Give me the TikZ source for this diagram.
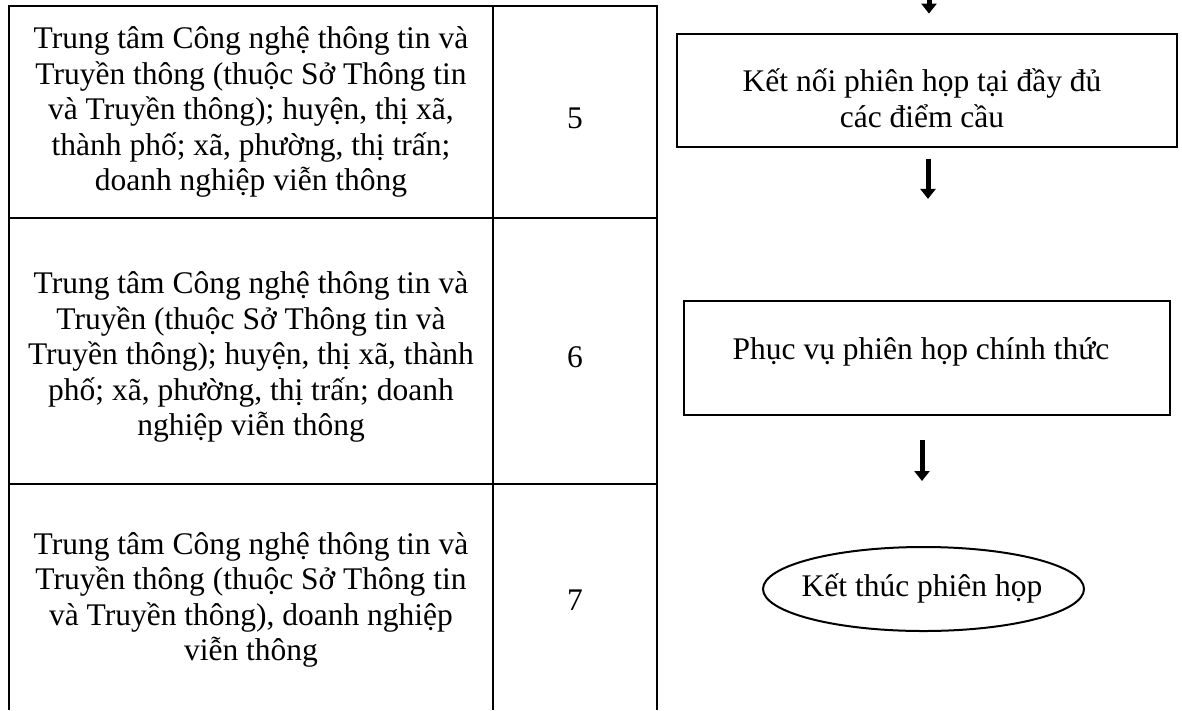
\documentclass[tikz,border=0pt]{standalone}
\usepackage{fontspec}
\setmainfont{Liberation Serif}
\usetikzlibrary{arrows.meta,shapes.geometric}
\begin{document}
\begin{tikzpicture}[x=1pt,y=-1pt,
  tbl/.style={line width=2.2pt},
  txt/.style={align=center,inner sep=0pt,font=\fontsize{31.5}{35.5}\selectfont},
  stepbox/.style={draw,line width=2.2pt,inner sep=0pt},
  endell/.style={draw,ellipse,line width=2pt,inner sep=0pt},
  arr/.style={line width=5pt,-{Triangle[width=15pt,length=10pt]}}]
\useasboundingbox (0,0) rectangle (1182,710);
% table
\draw[tbl] (9,710) -- (9,6) -- (657,6) -- (657,710);
\draw[tbl] (493,6) -- (493,710);
\draw[tbl] (9,218) -- (657,218);
\draw[tbl] (9,484) -- (657,484);
\node[txt] (r1) at (251,112) {Trung tâm Công nghệ thông tin và\\Truyền thông (thuộc Sở Thông tin\\và Truyền thông); huyện, thị xã,\\thành phố; xã, phường, thị trấn;\\doanh nghiệp viễn thông};
\node[txt] (n1) at (575,118) {5};
\node[txt] (r2) at (251,357) {Trung tâm Công nghệ thông tin và\\Truyền (thuộc Sở Thông tin và\\Truyền thông); huyện, thị xã, thành\\phố; xã, phường, thị trấn; doanh\\nghiệp viễn thông};
\node[txt] (n2) at (575,357) {6};
\node[txt] (r3) at (251,600) {Trung tâm Công nghệ thông tin và\\Truyền thông (thuộc Sở Thông tin\\và Truyền thông), doanh nghiệp\\viễn thông};
\node[txt] (n3) at (575,600) {7};
% flow
\node[stepbox,line width=2.8pt,minimum width=500pt,minimum height=113pt] (k1) at (927,90.5) {};
\node[txt] (k1t) at (922,98) {Kết nối phiên họp tại đầy đủ\\các điểm cầu};
\node[stepbox,minimum width=486pt,minimum height=114pt] (p1) at (927,358) {};
\node[txt] (p1t) at (921,352) {Phục vụ phiên họp chính thức};
\node[endell,minimum width=321pt,minimum height=84pt] (e1) at (923.5,589) {};
\node[txt] (e1t) at (922,588) {Kết thúc phiên họp};
\coordinate (top) at (929,0);
\draw[arr,shorten >=19pt] (top) -- (top |- k1.north);
\draw[arr,shorten <=11pt,shorten >=101pt] ([xshift=1pt]k1.south) -- ([xshift=1pt]k1.south |- p1.north);
\draw[arr,shorten <=24pt,shorten >=65pt] ([xshift=-5pt]p1.south) -- ([xshift=-5pt]p1.south |- e1.north);
\end{tikzpicture}
\end{document}
